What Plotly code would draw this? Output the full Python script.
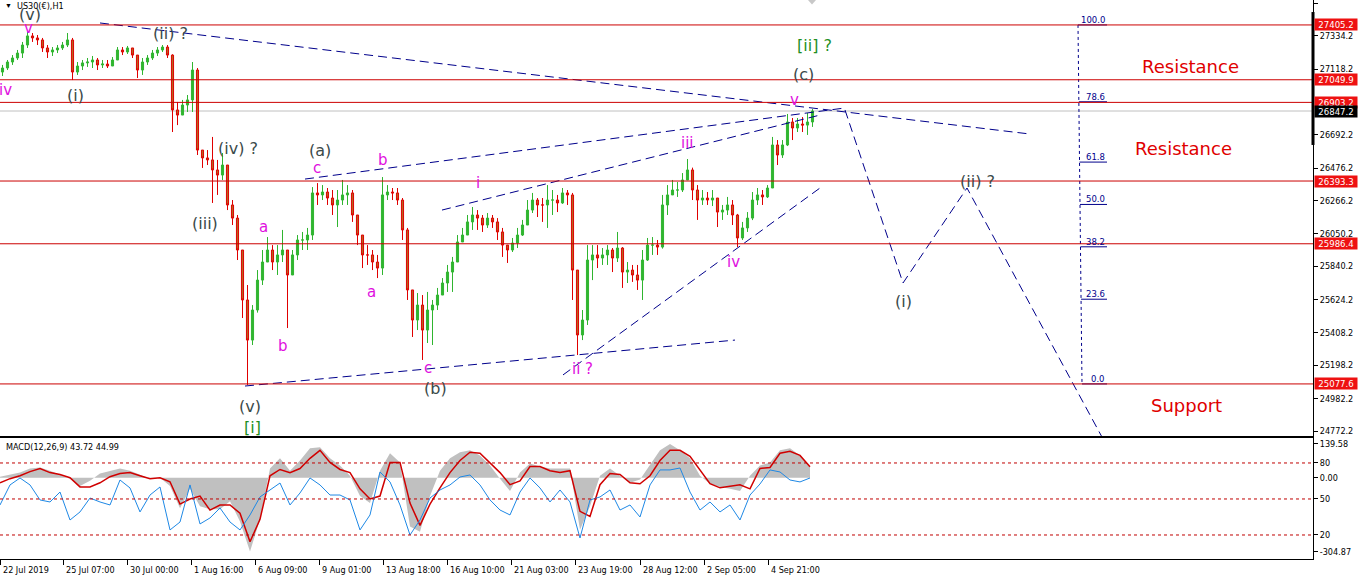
import plotly.graph_objects as go

# ---------------- DATA ----------------
# time axis: hour index of H1 bars (trading hours) and the labels MT4 shows
time_tick_pos = [0, 63, 127, 191, 255, 319, 383, 447, 511, 575, 640, 704, 768]
time_tick_labels = ["22 Jul 2019", "25 Jul 07:00", "30 Jul 00:00", "1 Aug 16:00", "6 Aug 09:00",
                    "9 Aug 01:00", "13 Aug 18:00", "16 Aug 10:00", "21 Aug 03:00", "23 Aug 19:00",
                    "28 Aug 12:00", "2 Sep 05:00", "4 Sep 21:00"]

# candles, one per 5 H1 bars (start hour of each candle)
candle_hours = list(range(0, 815, 5))
first_open = 27100
closes = [27126, 27165, 27191, 27223, 27275, 27334, 27321, 27308, 27256, 27230,
          27243, 27256, 27275, 27308, 27100, 27139, 27159, 27165, 27178, 27146,
          27152, 27139, 27178, 27243, 27230, 27256, 27210, 27113, 27165, 27191,
          27223, 27243, 27262, 27210, 26854, 26821, 26886, 26919, 27113, 26594,
          26543, 26530, 26465, 26432, 26497, 26238, 26153, 25946, 25622, 25362,
          25557, 25751, 25868, 25946, 25868, 25914, 25946, 25784, 25914, 26011,
          26011, 26043, 26316, 26303, 26322, 26283, 26238, 26270, 26303, 26316,
          26173, 26043, 25914, 25914, 25868, 25829, 26303, 26322, 26316, 26270,
          26076, 25687, 25492, 25589, 25427, 25557, 25589, 25654, 25732, 25803,
          25868, 25998, 26043, 26128, 26173, 26153, 26108, 26153, 26128, 26063,
          25978, 25946, 25991, 26043, 26108, 26205, 26270, 26238, 26238, 26270,
          26270, 26251, 26316, 26303, 25816, 25395, 25492, 25881, 25914, 25894,
          25914, 25946, 25894, 25959, 25803, 25816, 25784, 25751, 25881, 25978,
          25978, 25965, 26238, 26303, 26335, 26335, 26400, 26465, 26335, 26270,
          26283, 26270, 26283, 26192, 26205, 26238, 26173, 26024, 26089, 26153,
          26270, 26303, 26290, 26348, 26627, 26562, 26627, 26776, 26737, 26763,
          26756, 26776, 26847]
highs = [27146, 27178, 27210, 27243, 27295, 27360, 27353, 27340, 27321, 27275,
         27262, 27275, 27295, 27353, 27321, 27165, 27178, 27191, 27204, 27191,
         27178, 27178, 27197, 27262, 27262, 27269, 27256, 27210, 27191, 27210,
         27243, 27262, 27275, 27275, 27215, 26906, 26919, 26951, 27165, 27126,
         26594, 26594, 26679, 26530, 26575, 26497, 26270, 26173, 25946, 25719,
         25589, 25816, 25946, 26030, 25978, 25978, 26076, 25946, 25946, 26043,
         26063, 26089, 26354, 26380, 26367, 26348, 26335, 26335, 26400, 26367,
         26335, 26173, 26043, 25978, 25946, 25914, 26419, 26367, 26348, 26348,
         26283, 26089, 25687, 25667, 25654, 25674, 25622, 25700, 25764, 25849,
         25901, 26043, 26089, 26173, 26225, 26205, 26173, 26186, 26173, 26153,
         26089, 25978, 26024, 26089, 26141, 26270, 26316, 26283, 26283, 26367,
         26335, 26303, 26348, 26335, 26316, 25816, 25557, 25978, 25978, 25978,
         25959, 25978, 25959, 26063, 25965, 25868, 25849, 25849, 25946, 26024,
         26030, 26011, 26303, 26367, 26400, 26387, 26445, 26536, 26480, 26367,
         26335, 26322, 26335, 26283, 26238, 26290, 26270, 26180, 26128, 26192,
         26322, 26348, 26335, 26367, 26679, 26659, 26659, 26828, 26802, 26802,
         26808, 26834, 26860]
lows = [27074, 27113, 27146, 27178, 27191, 27256, 27295, 27275, 27230, 27191,
        27204, 27223, 27243, 27262, 27048, 27081, 27113, 27133, 27126, 27113,
        27126, 27126, 27139, 27178, 27210, 27217, 27191, 27061, 27081, 27146,
        27178, 27204, 27230, 27191, 26711, 26756, 26821, 26841, 26841, 26562,
        26478, 26497, 26251, 26303, 26400, 26205, 26108, 25881, 25505, 25071,
        25330, 25540, 25719, 25868, 25816, 25784, 25868, 25440, 25784, 25881,
        25946, 25946, 26011, 26238, 26270, 26238, 26173, 26095, 26238, 26238,
        26128, 25978, 25829, 25849, 25816, 25764, 25784, 26270, 26270, 26238,
        26011, 25622, 25382, 25427, 25233, 25343, 25330, 25557, 25654, 25674,
        25674, 25868, 25998, 26043, 26076, 26076, 26063, 26089, 26089, 26011,
        25901, 25862, 25933, 25959, 26037, 26108, 26186, 26160, 26128, 26089,
        26173, 26192, 26245, 26238, 25622, 25265, 25362, 25460, 25751, 25829,
        25849, 25849, 25803, 25868, 25700, 25732, 25739, 25687, 25622, 25875,
        25914, 25914, 25955, 26173, 26303, 26290, 26322, 26400, 26270, 26141,
        26238, 26238, 26231, 26095, 26141, 26173, 26108, 25965, 26011, 26063,
        26140, 26238, 26238, 26283, 26348, 26497, 26543, 26620, 26659, 26711,
        26711, 26692, 26744]

# MACD(12,26,9) window, sampled every 10 H1 bars
macd_hours = list(range(0, 820, 10))
macd_main = [4, 13, 21, 38, 42, 29, 13, -4, -34, -13,
             17, 29, 38, 29, 13, -4, 0, -34, -126, -46,
             -118, -130, -130, -97, -181, -305, -172, 38, 80, 29,
             71, 122, 126, 80, 50, 8, -76, -105, 29, 101,
             63, -202, -223, -76, 29, 80, 105, 113, 92, 50,
             -4, -55, 21, 59, 46, 38, 38, 38, -215, -118,
             8, 38, 8, -21, -8, 50, 113, 139, 113, 80,
             8, -25, -38, -46, -55, 8, 50, 63, 113, 122,
             92, 44]
macd_signal = [-21, -4, 8, 25, 38, 21, 13, 0, -38, -38,
               -21, 4, 17, 21, 8, -4, 0, -17, -109, -88,
               -76, -134, -113, -113, -147, -265, -172, 8, 34, 21,
               38, 80, 113, 63, 34, 21, -46, -88, -76, 63,
               63, -105, -197, -109, -42, 21, 71, 105, 101, 59,
               21, -29, -13, 46, 46, 29, 21, 29, -139, -160,
               -29, 17, 13, -21, -25, 8, 71, 113, 113, 88,
               29, -25, -42, -34, -29, -46, 38, 42, 101, 109,
               92, 45]
oscillator = [45, 61.7, 67.5, 61.7, 49.2, 47.5, 55.8, 32.5, 39.2, 50.8,
              47.5, 45, 65.8, 59.2, 39.2, 53.3, 60, 24.2, 30.8, 61.7,
              29.2, 34.2, 42.5, 30.8, 24.2, 36.7, 51.7, 57.5, 63.3, 45,
              55, 67.5, 61.7, 53.3, 53.3, 49.2, 24.2, 36.7, 72.5, 64.2,
              45, 20, 32.5, 50.8, 57.5, 61.7, 68.3, 70, 61.7, 49.2,
              40.8, 36.7, 55.8, 67.5, 59.2, 47.5, 57.5, 47.5, 17.5, 49.2,
              51.7, 57.5, 40.8, 45, 35, 61.7, 74.2, 74.2, 75.8, 55.8,
              40.8, 47.5, 39.2, 45, 32.5, 53.3, 62.5, 74.2, 72.5, 65.8,
              64.2, 67.5]
osc_levels = [80, 50, 20]
macd_ticks = [139.58, 0.0, -304.87]

# price axis
price_ticks = [27544.2, 27334.2, 27118.2, 26692.2, 26476.2, 26266.2, 26050.2,
               25840.2, 25624.2, 25408.2, 25198.2, 24982.2, 24772.2]
sr_levels = [27405.2, 27049.9, 26903.2, 26393.3, 25986.4, 25077.6]
bid_price = 26847.2

# drawn trendlines (hour index, price)
trend_lines = [
    ([100, 1030], [27418, 26698]),
    ([305, 845], [26406, 26867]),
    ([245, 735], [25064, 25362]),
    ([442, 820], [26205, 26821]),
    ([563, 820], [25136, 26348]),
    ([845, 903, 967, 1102], [26854, 25732, 26348, 24733]),
]

# Fibonacci retracement
fib_low, fib_high = 25077.6, 27405.2
fib_levels = [0.0, 23.6, 38.2, 50.0, 61.8, 78.6, 100.0]
fib_x_top, fib_x_bottom, fib_x_end = 1078, 1082, 1107

# wave labels: text, hour, price, kind
GRAY, PINK, GREEN, RED = "#3b4a4a", "#e010e0", "#1f8f1f", "#e00000"
wave_labels = [
    ("(v)", 30, 27470, "g"), ("v", 28, 27385, "p"), ("iv", 5, 26983, "p"),
    ("(i)", 75, 26951, "g"), ("(ii) ?", 170, 27353, "g"), ("(iv) ?", 238, 26607, "g"),
    ("(iii)", 205, 26121, "g"), ("a", 263, 26095, "p"), ("b", 283, 25324, "p"),
    ("(v)", 250, 24934, "g"), ("[i]", 252, 24798, "G"), ("(a)", 320, 26588, "g"),
    ("c", 317, 26478, "p"), ("b", 383, 26530, "p"), ("a", 371, 25674, "p"),
    ("c", 428, 25181, "p"), ("(b)", 435, 25051, "g"), ("i", 478, 26380, "p"),
    ("ii ?", 582, 25174, "p"), ("iii", 687, 26640, "p"), ("iv", 733, 25868, "p"),
    ("v", 794, 26919, "p"), ("(c)", 803, 27081, "g"), ("[ii] ?", 814, 27275, "G"),
    ("(i)", 903, 25615, "g"), ("(ii) ?", 977, 26393, "g"),
    ("Resistance", 1190, 27133, "R"), ("Resistance", 1183, 26601, "R"),
    ("Support", 1186, 24941, "R"),
]

# ---------------- FIGURE ----------------
W, H = 1361, 583
X_MAX = 1313
PLOT_H = 559
opens = [first_open] + closes[:-1]
candle_x = [h + 2.5 for h in candle_hours]
TICKFONT = dict(family="DejaVu Sans Condensed, Liberation Sans, sans-serif", size=9, color="black")
LBLFONT = "DejaVu Sans, Verdana, sans-serif"

fig = go.Figure()

fig.add_trace(go.Candlestick(
    x=candle_x, open=opens, high=highs, low=lows, close=closes,
    xaxis="x", yaxis="y", showlegend=False, hoverinfo="skip", whiskerwidth=0,
    increasing=dict(line=dict(color="#2fb52f", width=1), fillcolor="#2fb52f"),
    decreasing=dict(line=dict(color="#e00000", width=1), fillcolor="#b5651d"),
))

for xs, ys in trend_lines:
    fig.add_trace(go.Scatter(x=xs, y=ys, mode="lines", xaxis="x", yaxis="y",
                             line=dict(color="#00008b", width=1, dash="9px,5px"),
                             showlegend=False, hoverinfo="skip"))

ann = []

# fibonacci
fig.add_trace(go.Scatter(x=[fib_x_top, fib_x_bottom], y=[fib_high, fib_low], mode="lines",
                         xaxis="x", yaxis="y", line=dict(color="#00008b", width=1, dash="3px,3px"),
                         showlegend=False, hoverinfo="skip"))
for lv in fib_levels:
    p = fib_low + (fib_high - fib_low) * lv / 100.0
    xs = fib_x_top + (fib_x_bottom - fib_x_top) * (1 - lv / 100.0)
    fig.add_trace(go.Scatter(x=[xs, fib_x_end], y=[p, p], mode="lines", xaxis="x", yaxis="y",
                             line=dict(color="#00008b", width=1), showlegend=False, hoverinfo="skip"))
    ann.append(dict(x=fib_x_end, y=p, xref="x", yref="y", text=f"{lv:.1f}", showarrow=False,
                    xanchor="right", yanchor="bottom", yshift=-2,
                    font=dict(family=LBLFONT, size=8.5, color="#00008b")))

# MACD panel
fig.add_trace(go.Scatter(x=macd_hours, y=macd_main, mode="lines", fill="tozeroy",
                         fillcolor="#c0c0c0", line=dict(width=0, color="#c0c0c0"),
                         xaxis="x2", yaxis="y2", showlegend=False, hoverinfo="skip"))
fig.add_trace(go.Scatter(x=macd_hours, y=macd_signal, mode="lines", line=dict(color="#d00000", width=1.5),
                         xaxis="x2", yaxis="y2", showlegend=False, hoverinfo="skip"))
fig.add_trace(go.Scatter(x=macd_hours, y=oscillator, mode="lines", line=dict(color="#1e88e5", width=1),
                         xaxis="x2", yaxis="y3", showlegend=False, hoverinfo="skip"))

shapes = []
for lv in sr_levels:
    shapes.append(dict(type="line", xref="x domain", x0=0, x1=1, yref="y", y0=lv, y1=lv,
                       line=dict(color="#cc0000", width=1), layer="above"))
shapes.append(dict(type="line", xref="x domain", x0=0, x1=1, yref="y", y0=bid_price, y1=bid_price,
                   line=dict(color="#c0c0c0", width=1), layer="below"))
for lv in osc_levels:
    shapes.append(dict(type="line", xref="x2 domain", x0=0, x1=1, yref="y3", y0=lv, y1=lv,
                       line=dict(color="#c00000", width=1, dash="3px,3px")))
shapes.append(dict(type="line", xref="paper", x0=1.0, x1=1.0, yref="y", y0=27489, y1=26627,
                   line=dict(color="black", width=3)))
shapes.append(dict(type="path", xref="x", yref="paper", path="M 808,1 L 816,1 L 812,0.992 Z",
                   fillcolor="#c8c8c8", line=dict(width=0)))

for txt, hx, pr, kind in wave_labels:
    if kind == "g":
        f = dict(family=LBLFONT, size=16, color=GRAY)
    elif kind == "p":
        f = dict(family=LBLFONT, size=15, color=PINK)
    elif kind == "G":
        f = dict(family=LBLFONT, size=16, color=GREEN)
    else:
        f = dict(family=LBLFONT, size=18, color=RED)
    ann.append(dict(x=hx, y=pr, xref="x", yref="y", text=txt, showarrow=False,
                    xanchor="center", yanchor="middle", font=f))

BOXFONT = dict(family=TICKFONT["family"], size=9.5, color="white")
for lv in sr_levels:
    ann.append(dict(x=1, y=lv, xref="paper", yref="y", text=f"{lv:.1f}", showarrow=False,
                    xanchor="left", yanchor="middle", xshift=1, bgcolor="#ee1111",
                    font=BOXFONT, borderpad=0, width=42, height=11, align="center"))
ann.append(dict(x=1, y=bid_price, xref="paper", yref="y", text=f"{bid_price:.1f}", showarrow=False,
                xanchor="left", yanchor="middle", xshift=1, bgcolor="black",
                font=BOXFONT, borderpad=0, width=42, height=11, align="center"))

for pos, lab in zip(time_tick_pos, time_tick_labels):
    ann.append(dict(x=pos, y=-(570 - PLOT_H) / PLOT_H, xref="x2", yref="paper", text=lab,
                    showarrow=False, xanchor="left", yanchor="middle", xshift=1, font=TICKFONT))

ann.append(dict(x=15 / X_MAX, y=1 - 6 / PLOT_H, xref="paper", yref="paper", text="US30(€),H1",
                showarrow=False, xanchor="left", yanchor="middle",
                font=dict(family=TICKFONT["family"], size=9, color="black")))
ann.append(dict(x=3 / X_MAX, y=1 - 6 / PLOT_H, xref="paper", yref="paper", text="▼",
                showarrow=False, xanchor="left", yanchor="middle", font=dict(size=7, color="black")))
ann.append(dict(x=4 / X_MAX, y=(PLOT_H - 447) / PLOT_H, xref="paper", yref="paper",
                text="MACD(12,26,9) 43.72 44.99", showarrow=False, xanchor="left", yanchor="middle",
                font=dict(family=TICKFONT["family"], size=9, color="black")))

main_bottom = (PLOT_H - 436) / PLOT_H
macd_top = (PLOT_H - 438) / PLOT_H

fig.update_layout(
    width=W, height=H, margin=dict(l=0, r=W - X_MAX, t=0, b=H - PLOT_H),
    paper_bgcolor="white", plot_bgcolor="white", showlegend=False, boxgap=0.4,
    shapes=shapes, annotations=ann,
    xaxis=dict(domain=[0, 1], range=[0, X_MAX], anchor="y", showgrid=False, zeroline=False,
               showticklabels=False, ticks="", showline=True, linecolor="black", linewidth=1,
               rangeslider=dict(visible=False), fixedrange=True),
    yaxis=dict(domain=[main_bottom, 1], range=[24740, 27567], side="right", anchor="x",
               showgrid=False, zeroline=False, showline=True, linecolor="black", linewidth=1,
               tickvals=price_ticks, ticktext=[f"{v:.1f}" for v in price_ticks],
               ticks="outside", ticklen=4, tickcolor="black", tickfont=TICKFONT),
    xaxis2=dict(domain=[0, 1], range=[0, X_MAX], anchor="y2", matches="x", showgrid=False,
                zeroline=False, showticklabels=False, tickvals=time_tick_pos, ticks="outside",
                ticklen=5, tickcolor="black", showline=True, mirror=True, linecolor="black",
                linewidth=1),
    yaxis2=dict(domain=[0, macd_top], range=[-336, 164], side="right", anchor="x2",
                showgrid=False, zeroline=False, showline=True, linecolor="black", linewidth=1,
                tickvals=macd_ticks, ticktext=["139.58", "0.00", "-304.87"], ticks="outside",
                ticklen=4, tickcolor="black", tickfont=TICKFONT),
    yaxis3=dict(range=[0, 100.8], overlaying="y2", side="right", anchor="x2", showgrid=False,
                zeroline=False, showline=False, tickvals=osc_levels,
                ticktext=[str(v) for v in osc_levels], ticks="outside", ticklen=4,
                tickcolor="black", tickfont=TICKFONT),
)

fig.write_html("out.html", config={"displayModeBar": False},
               post_script="document.body.style.margin='0px';document.body.style.overflow='hidden';")
